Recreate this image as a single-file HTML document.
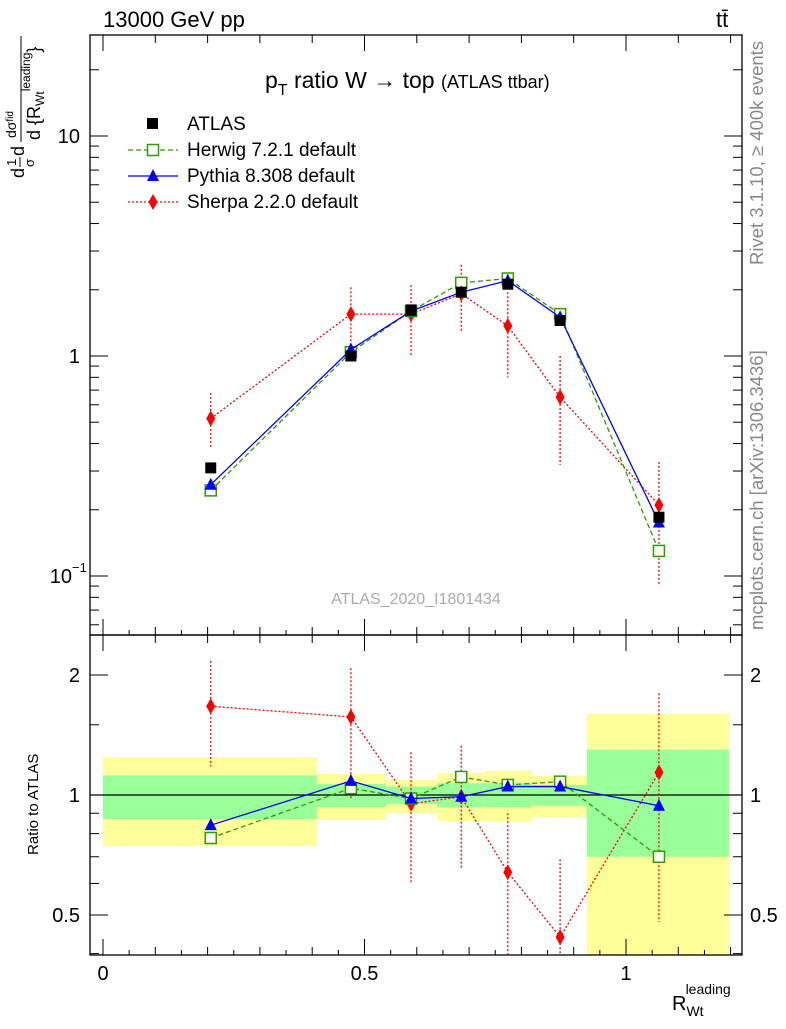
<!DOCTYPE html>
<html><head><meta charset="utf-8"><style>
body{margin:0;background:#fff;font-family:"Liberation Sans",sans-serif}
svg text{font-family:"Liberation Sans",sans-serif}
</style></head><body>
<svg id="c" width="786" height="1024" xmlns="http://www.w3.org/2000/svg"></svg>
<script>
const xs=[0.206,0.474,0.589,0.685,0.774,0.874,1.063];
const edges=[0,0.409,0.541,0.639,0.730,0.820,0.925,1.197];
const atlas=[0.31,1.0,1.62,1.95,2.12,1.45,0.185];
const herwig=[0.245,1.04,1.6,2.15,2.25,1.55,0.13];
const pythia=[0.26,1.07,1.6,1.95,2.2,1.5,0.175];
const sherpa=[0.52,1.55,1.55,1.92,1.37,0.65,0.21];
const sherpaHi=[0.68,2.05,2.1,2.6,1.95,1.0,0.33];
const sherpaLo=[0.38,1.0,1.0,1.28,0.8,0.32,0.09];
const rHerwig=[0.78,1.04,0.98,1.11,1.06,1.08,0.70];
const rPythia=[0.84,1.085,0.98,0.99,1.05,1.05,0.94];
const rSherpa=[1.67,1.57,0.95,0.99,0.64,0.44,1.14];
const rSherpaHi=[2.17,2.08,1.28,1.33,0.9,0.69,1.8];
const rSherpaLo=[1.18,0.98,0.6,0.65,0.3,0.3,0.48];
const yelHi=[1.245,1.13,1.09,1.135,1.15,1.115,1.6];
const yelLo=[0.746,0.866,0.90,0.86,0.857,0.88,0.3];
const grnHi=[1.12,1.065,1.05,1.07,1.07,1.06,1.3];
const grnLo=[0.87,0.933,0.95,0.93,0.93,0.94,0.70];

const S=document.getElementById('c');const NS='http://www.w3.org/2000/svg';
function el(t,a,p){const e=document.createElementNS(NS,t);for(const k in a)e.setAttribute(k,a[k]);(p||S).appendChild(e);return e;}
const L=90,R=742,T=35,M=635,B=955;
const X=v=>103+v*523;
const Y=v=>356-220*Math.log10(v);
const RY=v=>795-120*Math.log2(v);
const defs=el('defs',{});
const cp1=el('clipPath',{id:'cm'},defs);el('rect',{x:L,y:T,width:R-L,height:M-T},cp1);
const cp2=el('clipPath',{id:'cr'},defs);el('rect',{x:L,y:M,width:R-L,height:B-M},cp2);
const gm=el('g',{'clip-path':'url(#cm)'});
const gr=el('g',{'clip-path':'url(#cr)'});
for(let i=0;i<7;i++){
 let r=el('rect',{x:X(edges[i]),y:RY(yelHi[i]),width:X(edges[i+1])-X(edges[i]),height:RY(yelLo[i])-RY(yelHi[i]),fill:'#ffff99'},gr);
 
 r=el('rect',{x:X(edges[i]),y:RY(grnHi[i]),width:X(edges[i+1])-X(edges[i]),height:RY(grnLo[i])-RY(grnHi[i]),fill:'#99ff99'},gr);
 
}
el('line',{x1:L,x2:R,y1:RY(1),y2:RY(1),stroke:'#000','stroke-width':1.3},gr);
function series(g,vals,yf,col,dash,marker,name,hi,lo){
 const pts=vals.map((v,i)=>X(xs[i])+','+yf(v)).join(' ');
 const pl=el('polyline',{points:pts,fill:'none',stroke:col,'stroke-width':1.3,'stroke-dasharray':dash},g);
 
 vals.forEach((v,i)=>{
  const x=X(xs[i]),y=yf(v);
  if(hi){const e=el('line',{x1:x,x2:x,y1:yf(hi[i]),y2:yf(lo[i]),stroke:col,'stroke-width':1.3,'stroke-dasharray':'2,2'},g);
   }
  let m;
  if(marker==='sq')m=el('rect',{x:x-5.5,y:y-5.5,width:11,height:11,fill:'#fff',stroke:col,'stroke-width':1.5},g);
  else if(marker==='fsq')m=el('rect',{x:x-5.5,y:y-5.5,width:11,height:11,fill:col},g);
  else if(marker==='tri')m=el('polygon',{points:`${x},${y-7} ${x-6},${y+5} ${x+6},${y+5}`,fill:col},g);
  else m=el('polygon',{points:`${x},${y-8} ${x-4.5},${y} ${x},${y+8} ${x+4.5},${y}`,fill:col},g);
  
 });
}
series(gm,sherpa,Y,'#ff0000','2,2','dia','sherpa',sherpaHi,sherpaLo);
series(gm,herwig,Y,'#339900','5,3','sq','herwig');
series(gm,pythia,Y,'#0000ff','none','tri','pythia');
series(gm,atlas,Y,'#000','0,1000','fsq','atlas');
series(gr,rSherpa,RY,'#ff0000','2,2','dia','sherpa-ratio',rSherpaHi,rSherpaLo);
series(gr,rHerwig,RY,'#339900','5,3','sq','herwig-ratio');
series(gr,rPythia,RY,'#0000ff','none','tri','pythia-ratio');
el('rect',{x:L,y:T,width:R-L,height:M-T,fill:'none',stroke:'#000','stroke-width':1.3});
el('rect',{x:L,y:M,width:R-L,height:B-M,fill:'none',stroke:'#000','stroke-width':1.3});
for(let k=0;k<=12;k++){const v=k/10,x=X(v);const big=k%5===0;
 for(const [y0,d] of [[M,-1],[T,1],[B,-1],[M,1]]){el('line',{x1:x,x2:x,y1:y0,y2:y0+d*(big?16:8),stroke:'#000'});}
 for(const y0 of [M,B]){if(k<12){const xh=X(v+0.05);if(xh<R){el('line',{x1:xh,x2:xh,y1:y0,y2:y0-5,stroke:'#000'});}}}
}
const xticks=['0','0.5','1'];
xticks.forEach((t,i)=>{const tx=el('text',{x:X(i*0.5),y:980,'font-size':20,'text-anchor':'middle'});tx.textContent=t;
 });
for(let d=-2;d<=1;d++)for(let m=1;m<10;m++){const v=m*Math.pow(10,d),y=Y(v);if(y<T||y>M)continue;
 const len=m===1?18:9;el('line',{x1:L,x2:L+len,y1:y,y2:y,stroke:'#000'});el('line',{x1:R,x2:R-len,y1:y,y2:y,stroke:'#000'});}
let t=el('text',{x:80,y:143,'font-size':20,'text-anchor':'end'});t.textContent='10';
t=el('text',{x:80,y:363,'font-size':20,'text-anchor':'end'});t.textContent='1';
t=el('text',{x:72,y:583,'font-size':20,'text-anchor':'end'});t.textContent='10';
t=el('text',{x:72,y:572,'font-size':13});t.textContent='−1';
const rt=[0.4,0.5,0.6,0.7,0.8,0.9,1,1.5,2];
rt.forEach(v=>{const y=RY(v);const big=(v===0.5||v===1||v===2);const len=big?18:9;
 el('line',{x1:L,x2:L+len,y1:y,y2:y,stroke:'#000'});el('line',{x1:R,x2:R-len,y1:y,y2:y,stroke:'#000'});});
for(const [v,s] of [[2,'2'],[1,'1'],[0.5,'0.5']]){
 t=el('text',{x:80,y:RY(v)+7,'font-size':20,'text-anchor':'end'});t.textContent=s;
 t=el('text',{x:750,y:RY(v)+7,'font-size':20});t.textContent=s;
}
</script>
<svg width="786" height="1024" style="position:absolute;left:0;top:0" xmlns="http://www.w3.org/2000/svg">
<text x="103" y="27" font-size="22">13000 GeV pp</text>
<text x="716" y="27" font-size="22">tt̄</text>
<text x="265" y="88" font-size="23">p<tspan font-size="16" dy="7">T</tspan><tspan dy="-7"> ratio W → top </tspan><tspan font-size="18">(ATLAS ttbar)</tspan></text>
<g font-size="19">
<rect x="147" y="118" width="11" height="11" fill="#000"/>
<text x="187" y="130">ATLAS</text>
<line x1="128" x2="178" y1="150" y2="150" stroke="#339900" stroke-dasharray="5,3" stroke-width="1.3"/>
<rect x="147.5" y="144.5" width="11" height="11" fill="#fff" stroke="#339900" stroke-width="1.5"/>
<text x="187" y="156">Herwig 7.2.1 default</text>
<line x1="128" x2="178" y1="176" y2="176" stroke="#0000ff" stroke-width="1.3"/>
<polygon points="153,169 147,181 159,181" fill="#0000ff"/>
<text x="187" y="182">Pythia 8.308 default</text>
<line x1="128" x2="178" y1="202" y2="202" stroke="#ff0000" stroke-dasharray="2,2" stroke-width="1.3"/>
<polygon points="153,194 148.5,202 153,210 157.5,202" fill="#ff0000"/>
<text x="187" y="208">Sherpa 2.2.0 default</text>
</g>
<text x="416" y="604" font-size="16" fill="#aaa" text-anchor="middle">ATLAS_2020_I1801434</text>
<text transform="translate(763,265) rotate(-90)" font-size="18.5" fill="#888">Rivet 3.1.10, ≥ 400k events</text>
<text transform="translate(763,630) rotate(-90)" font-size="18.5" fill="#888">mcplots.cern.ch [arXiv:1306.3436]</text>
<g transform="translate(24,178) rotate(-90)" font-size="18">
<text x="0" y="0">d</text>
<text x="12" y="-8" font-size="13">1</text>
<line x1="11" x2="21" y1="-4" y2="-4" stroke="#000"/>
<text x="11" y="10" font-size="13">σ</text>
<text x="22" y="0">d</text>
<text x="40" y="-8" font-size="14">dσ<tspan font-size="10" dy="-3">fid</tspan></text>
<line x1="36" x2="142" y1="-3" y2="-3" stroke="#000"/>
<text x="38" y="16">d {R<tspan font-size="12" dy="4">Wt</tspan><tspan font-size="12" dy="-14">leading</tspan><tspan dy="10">}</tspan></text>
</g>
<text transform="translate(38,855) rotate(-90)" font-size="15">Ratio to ATLAS</text>
<text x="672" y="1010" font-size="20">R<tspan font-size="14" dy="6">Wt</tspan><tspan font-size="14" dx="-18" dy="-22">leading</tspan></text>
</svg>
</body></html>
